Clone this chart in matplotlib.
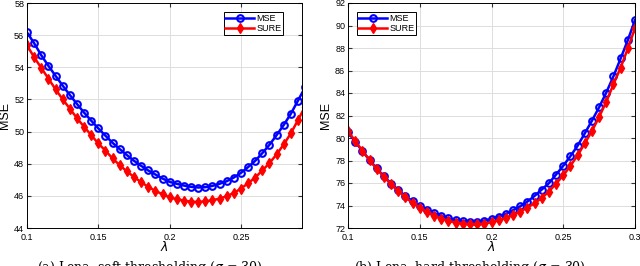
import numpy as np
import matplotlib
matplotlib.use("Agg")
import matplotlib.pyplot as plt

plt.rcParams['font.family'] = ['Liberation Sans', 'DejaVu Sans']

lam = np.round(np.arange(0.1, 0.3001, 0.005), 3)

# panel (a)
mse_a = [56.17, 55.50, 54.75, 54.09, 53.47, 52.86, 52.28, 51.72, 51.18, 50.68,
         50.20, 49.74, 49.30, 48.91, 48.54, 48.18, 47.87, 47.58, 47.33, 47.08,
         46.87, 46.75, 46.64, 46.56, 46.52, 46.54, 46.62, 46.75, 46.91, 47.14,
         47.43, 47.79, 48.18, 48.66, 49.18, 49.78, 50.41, 51.11, 51.93, 52.76,
         53.70]
sure_a = [55.36, 54.63, 53.96, 53.30, 52.63, 52.01, 51.43, 50.84, 50.30, 49.78,
          49.26, 48.81, 48.33, 47.91, 47.52, 47.18, 46.85, 46.56, 46.31, 46.10,
          45.91, 45.79, 45.71, 45.64, 45.62, 45.66, 45.73, 45.83, 45.98, 46.18,
          46.45, 46.79, 47.14, 47.58, 48.04, 48.58, 49.20, 49.89, 50.72, 51.55,
          52.50]

# panel (b)
mse_b = [80.50, 79.67, 78.84, 78.06, 77.29, 76.61, 75.95, 75.36, 74.82, 74.38,
         73.93, 73.60, 73.31, 73.07, 72.86, 72.71, 72.62, 72.56, 72.56, 72.65,
         72.80, 73.01, 73.25, 73.58, 73.93, 74.35, 74.85, 75.42, 75.98, 76.75,
         77.53, 78.39, 79.31, 80.41, 81.54, 82.73, 84.04, 85.49, 87.07, 88.70,
         90.48]
sure_b = [80.62, 79.73, 78.86, 78.03, 77.26, 76.55, 75.89, 75.30, 74.73, 74.23,
          73.81, 73.43, 73.10, 72.83, 72.62, 72.48, 72.39, 72.33, 72.33, 72.39,
          72.51, 72.68, 72.89, 73.13, 73.46, 73.81, 74.20, 74.67, 75.24, 75.95,
          76.67, 77.53, 78.45, 79.52, 80.62, 81.87, 83.23, 84.78, 86.26, 87.96,
          89.77]

captions = ["(a) Lena, soft thresholding ($\\sigma$ = 30)",
            "(b) Lena, hard thresholding ($\\sigma$ = 30)"]

fig = plt.figure(figsize=(6.4, 2.66), dpi=100)
ax1 = fig.add_axes([27/640, 1-228/266, 275/640, 225/266])
ax2 = fig.add_axes([348/640, 1-228/266, 287/640, 225/266])


def draw(ax, mse, sure, xlim, ylim, yticks, xticks, loc, anchor):
    ax.plot(lam, mse, '-o', color='#0000ff', lw=1.8, ms=4.8, mfc='none',
            mew=1.5, label='MSE')
    ax.plot(lam, sure, '-d', color='#ff0000', lw=1.8, ms=4.8, mfc='#ff0000',
            mew=1.0, label='SURE')
    ax.set_xlim(*xlim)
    ax.set_ylim(*ylim)
    ax.set_yticks(yticks)
    ax.set_xticks(xticks)
    ax.set_xticklabels([('%g' % t) for t in xticks])
    ax.grid(True, color='#dddddd', lw=0.7)
    ax.set_axisbelow(True)
    ax.tick_params(labelsize=6.5, direction='in', length=3, color='#333333',
                   top=True, right=True, pad=2)
    ax.tick_params(axis='x', pad=3.5)
    for s in ax.spines.values():
        s.set_linewidth(0.7)
    ax.set_ylabel('MSE', fontsize=9, labelpad=2)
    ax.set_xlabel('$\\lambda$', fontsize=9, labelpad=-1)
    leg = ax.legend(loc=loc, bbox_to_anchor=anchor, fontsize=6.5,
                    handlelength=3.2, borderpad=0.2, labelspacing=0.1,
                    handletextpad=0.2, fancybox=False, framealpha=1,
                    edgecolor='black', borderaxespad=0)
    leg.get_frame().set_linewidth(0.7)


draw(ax1, mse_a, sure_a, (0.1, 0.2928), (44, 58), np.arange(44, 59, 2),
     [0.1, 0.15, 0.2, 0.25], 'upper left', (0.715, 0.96))
draw(ax2, mse_b, sure_b, (0.1, 0.3), (72, 92), np.arange(72, 93, 2),
     [0.1, 0.15, 0.2, 0.25, 0.3], 'upper left', (0.03, 0.96))

# captions sit at the bottom edge, only their top shows as in the source
fig.text(150/640, 1-259/266, captions[0], ha='center', va='top', fontsize=9,
         family='DejaVu Serif')
fig.text(470/640, 1-259/266, captions[1], ha='center', va='top', fontsize=9,
         family='DejaVu Serif')

fig.savefig('out.png', dpi=100)
